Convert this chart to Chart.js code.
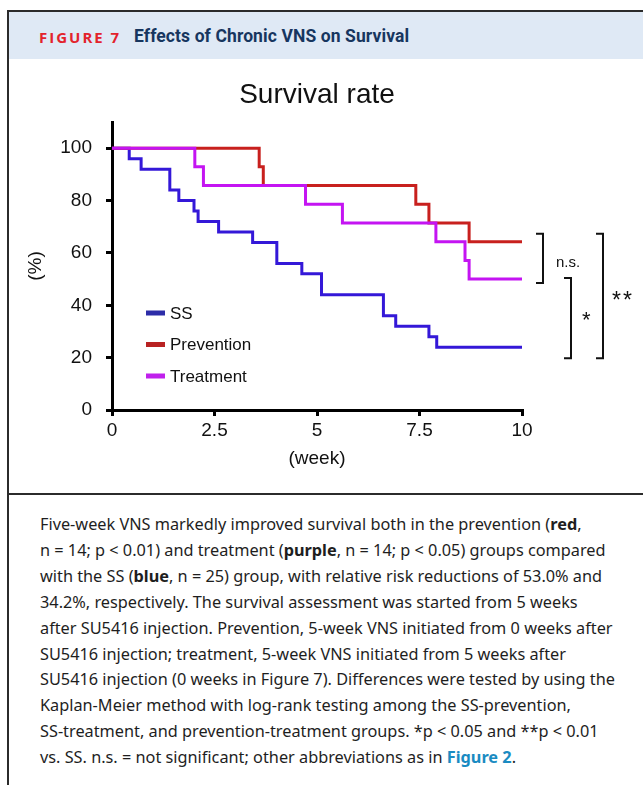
<!DOCTYPE html>
<html>
<head>
<meta charset="utf-8">
<script src="https://cdn.jsdelivr.net/npm/chart.js@4.4.1/dist/chart.umd.min.js"></script>
<style>
  html, body { margin: 0; padding: 0; background: #fff; }
  body { width: 643px; height: 785px; position: relative; overflow: hidden; }
  .frame {
    position: absolute; left: 7px; top: 10px; width: 660px; height: 800px;
    border-left: 2px solid #2b2b2b; border-top: 2px solid #2b2b2b;
  }
  .head {
    position: absolute; left: 0; top: 0; width: 660px; height: 47px;
    background: #dfe9f5;
  }
  .head .fig {
    position: absolute; left: 30px; top: 15px;
    font: bold 15px "Open Sans", "Noto Sans", sans-serif; letter-spacing: 2px;
    color: #e3232c;
  }
  .head .ttl {
    position: absolute; left: 125px; top: 14px;
    font: bold 17.5px "Roboto", sans-serif; letter-spacing: 0.1px;
    color: #17365f;
  }
  .sep {
    position: absolute; left: 0; top: 481px; width: 660px; height: 0;
    border-top: 2px solid #2b2b2b;
  }
  #wrap { position: absolute; left: 0; top: 51px; width: 634px; height: 430px; }
  .cap {
    position: absolute; left: 31px; top: 500px; width: 620px;
    font: 16.3px "Noto Sans", "Open Sans", sans-serif; line-height: 25.9px;
    color: #1e1e1e; white-space: nowrap;
  }
  .cap b { font-weight: bold; }
  .cap .lnk { color: #1a8bc2; font-weight: bold; }
</style>
</head>
<body>
<div class="frame">
  <div class="head">
    <span class="fig">FIGURE 7</span>
    <span class="ttl">Effects of Chronic VNS on Survival</span>
  </div>
  <div id="wrap"><canvas id="km"></canvas></div>
  <div class="sep"></div>
  <div class="cap">
    Five-week VNS markedly improved survival both in the prevention (<b>red</b>,<br>
    n = 14; p &lt; 0.01) and treatment (<b>purple</b>, n = 14; p &lt; 0.05) groups compared<br>
    with the SS (<b>blue</b>, n = 25) group, with relative risk reductions of 53.0% and<br>
    34.2%, respectively. The survival assessment was started from 5 weeks<br>
    after SU5416 injection. Prevention, 5-week VNS initiated from 0 weeks after<br>
    SU5416 injection; treatment, 5-week VNS initiated from 5 weeks after<br>
    SU5416 injection (0 weeks in Figure 7). Differences were tested by using the<br>
    Kaplan-Meier method with log-rank testing among the SS-prevention,<br>
    SS-treatment, and prevention-treatment groups. *p &lt; 0.05 and **p &lt; 0.01<br>
    vs. SS. n.s. = not significant; other abbreviations as in <span class="lnk">Figure 2</span>.
  </div>
</div>

<script>
// Kaplan-Meier steps (week of drop, survival % after drop)
const ssWeeks = [0, 0.42, 0.71, 1.41, 1.63, 2.0, 2.1, 2.6, 3.43, 4.02, 4.63, 5.11, 6.62, 6.92, 7.73, 7.92, 10];
const ssSurvival = [100, 96, 92, 84, 80, 76, 72, 68, 64, 56, 52, 44, 36, 32, 28, 24, 24];

const preventionWeeks = [0, 3.59, 3.69, 7.41, 7.73, 8.71, 10];
const preventionSurvival = [100, 92.9, 85.7, 78.6, 71.4, 64.3, 64.3];

const treatmentWeeks = [0, 2.02, 2.23, 4.72, 5.62, 7.90, 8.61, 8.71, 10];
const treatmentSurvival = [100, 92.9, 85.7, 78.6, 71.4, 64.3, 57.1, 50, 50];

const xTicks = [0, 2.5, 5, 7.5, 10];
const yTicks = [0, 20, 40, 60, 80, 100];

const FONT = "'Liberation Sans', Arial, sans-serif";

function pts(xs, ys) {
  return xs.map((x, i) => ({ x: x, y: ys[i] }));
}

// title sits centred on the whole figure, not just the plot
const chartTitle = {
  id: "chartTitle",
  afterDraw(chart) {
    const ctx = chart.ctx;
    ctx.save();
    ctx.font = "28px " + FONT;
    ctx.fillStyle = "#111";
    ctx.textAlign = "center";
    ctx.textBaseline = "middle";
    ctx.fillText("Survival rate", 308, 32);
    ctx.restore();
  }
};

// legend drawn inside the plot, lower left
const insideLegend = {
  id: "insideLegend",
  afterDraw(chart) {
    const ctx = chart.ctx;
    const a = chart.chartArea;
    ctx.save();
    ctx.font = "17px " + FONT;
    ctx.textBaseline = "middle";
    chart.data.datasets.forEach((ds, i) => {
      const y = a.top + 191 + i * 31.5;
      ctx.fillStyle = ds.legendColor;
      ctx.fillRect(a.left + 34, y - 2.5, 19, 5);
      ctx.fillStyle = "#111";
      ctx.fillText(ds.label, a.left + 58, y + 1);
    });
    ctx.restore();
  }
};

// significance brackets to the right of the curves
const brackets = {
  id: "brackets",
  afterDraw(chart) {
    const ctx = chart.ctx;
    const ys = chart.scales.y;
    const r = chart.chartArea.right;
    const redEnd = ys.getPixelForValue(preventionSurvival[preventionSurvival.length - 1]);
    const purEnd = ys.getPixelForValue(treatmentSurvival[treatmentSurvival.length - 1]);
    const blueEnd = ys.getPixelForValue(ssSurvival[ssSurvival.length - 1]);
    const list = [
      { x: r + 21, top: redEnd - 8, bottom: purEnd + 4, text: ["n.s."], tx: r + 34, ty: (redEnd + purEnd) / 2 + 2, size: 15 },
      { x: r + 49, top: purEnd - 1, bottom: blueEnd + 11, text: ["*"], tx: r + 60, ty: (purEnd + blueEnd) / 2 + 8, size: 22 },
      { x: r + 81, top: redEnd - 8, bottom: blueEnd + 11, text: ["*", "*"], tx: r + 90, ty: (redEnd + blueEnd) / 2 + 7, size: 23 }
    ];
    ctx.save();
    ctx.strokeStyle = "#111";
    ctx.fillStyle = "#111";
    ctx.lineWidth = 2;
    list.forEach(b => {
      ctx.beginPath();
      ctx.moveTo(b.x - 7, b.top);
      ctx.lineTo(b.x, b.top);
      ctx.lineTo(b.x, b.bottom);
      ctx.lineTo(b.x - 7, b.bottom);
      ctx.stroke();
      ctx.font = b.size + "px " + FONT;
      ctx.textBaseline = "middle";
      b.text.forEach((t, k) => ctx.fillText(t, b.tx + k * 11, b.ty));
    });
    ctx.restore();
  }
};

new Chart(document.getElementById("km"), {
  type: "line",
  data: {
    datasets: [
      {
        label: "SS",
        data: pts(ssWeeks, ssSurvival),
        borderColor: "#3418d8",
        legendColor: "#2c2ca8",
        order: 2
      },
      {
        label: "Prevention",
        data: pts(preventionWeeks, preventionSurvival),
        borderColor: "#c8201e",
        legendColor: "#b82222",
        order: 1
      },
      {
        label: "Treatment",
        data: pts(treatmentWeeks, treatmentSurvival),
        borderColor: "#c414f2",
        legendColor: "#c020ec",
        order: 0
      }
    ]
  },
  options: {
    responsive: true,
    maintainAspectRatio: false,
    animation: false,
    events: [],
    elements: {
      line: { stepped: "before", borderWidth: 3, tension: 0, fill: false },
      point: { radius: 0 }
    },
    layout: { padding: { left: 0, right: 121, top: 59, bottom: 0 } },
    plugins: {
      legend: { display: false },
      tooltip: { enabled: false },
      title: { display: false }
    },
    scales: {
      x: {
        type: "linear",
        min: 0,
        max: 10,
        afterBuildTicks: s => { s.ticks = xTicks.map(v => ({ value: v })); },
        afterFit: s => { s.height = 83; },
        ticks: {
          color: "#111",
          font: { family: FONT, size: 19 },
          padding: 3,
          maxRotation: 0,
          callback: v => String(v)
        },
        grid: { drawOnChartArea: false, drawTicks: true, tickLength: 6, color: "#000", lineWidth: 3 },
        border: { color: "#000", width: 3 },
        title: {
          display: true,
          text: "(week)",
          color: "#111",
          font: { family: FONT, size: 19 },
          padding: { top: 0, bottom: 23 }
        }
      },
      y: {
        type: "linear",
        min: 0,
        max: 110,
        afterBuildTicks: s => { s.ticks = yTicks.map(v => ({ value: v })); },
        afterFit: s => { s.width = 103; },
        ticks: {
          color: "#111",
          font: { family: FONT, size: 19 },
          padding: 14
        },
        grid: { drawOnChartArea: false, drawTicks: true, tickLength: 6, color: "#000", lineWidth: 3 },
        border: { color: "#000", width: 3 },
        title: {
          display: true,
          text: "(%)",
          color: "#111",
          font: { family: FONT, size: 19 },
          padding: { top: 15, bottom: 0 }
        }
      }
    }
  },
  plugins: [chartTitle, insideLegend, brackets]
});
</script>
</body>
</html>
